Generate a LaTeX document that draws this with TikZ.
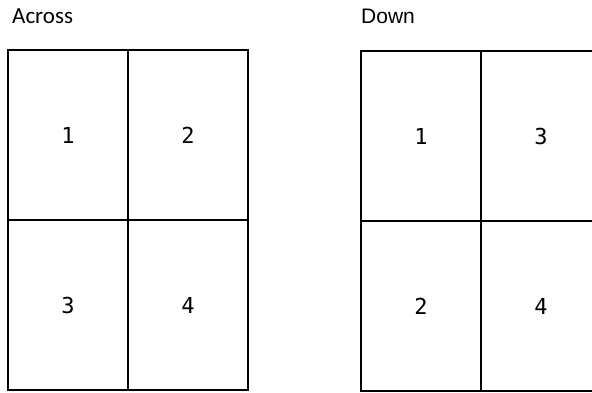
\documentclass[tikz,border=0pt]{standalone}
\usepackage{fontspec}
\newfontfamily\leftfont{Carlito}
\newfontfamily\rightfont{Liberation Sans}
\newfontfamily\numfont{DejaVu Sans Mono}
\begin{document}
\begin{tikzpicture}[x=1pt,y=-1pt,
  cell/.style={draw=black,line width=1.8pt,minimum width=120pt,minimum height=170pt,inner sep=0pt,outer sep=0pt,anchor=north west},
  lnum/.style={font=\numfont\fontsize{22}{22}\selectfont},
  rnum/.style={font=\numfont\fontsize{22}{22}\selectfont},
  ltitle/.style={font=\leftfont\fontsize{23}{23}\selectfont,anchor=base west,inner sep=0pt},
  rtitle/.style={font=\rightfont\fontsize{21}{21}\selectfont,anchor=base west,inner sep=0pt}]
\useasboundingbox (0,0) rectangle (592,392);
\clip (0,0) rectangle (592,392);
\fill[white] (0,0) rectangle (592,392);
\node[ltitle] (across) at (12,23) {Across};
\node[rtitle] (down) at (361,23) {Down};
% left grid
\node[cell] (a1) at (8,50) {};
\node[cell] (a2) at (128,50) {};
\node[cell] (a3) at (8,220) {};
\node[cell] (a4) at (128,220) {};
\node[lnum] at (a1.center) {1};
\node[lnum] at (a2.center) {2};
\node[lnum] at (a3.center) {3};
\node[lnum] at (a4.center) {4};
% right grid
\node[cell] (d1) at (361,51) {};
\node[cell] (d3) at (481,51) {};
\node[cell] (d2) at (361,221) {};
\node[cell] (d4) at (481,221) {};
\node[rnum] at (d1.center) {1};
\node[rnum] at (d3.center) {3};
\node[rnum] at (d2.center) {2};
\node[rnum] at (d4.center) {4};
\end{tikzpicture}
\end{document}
